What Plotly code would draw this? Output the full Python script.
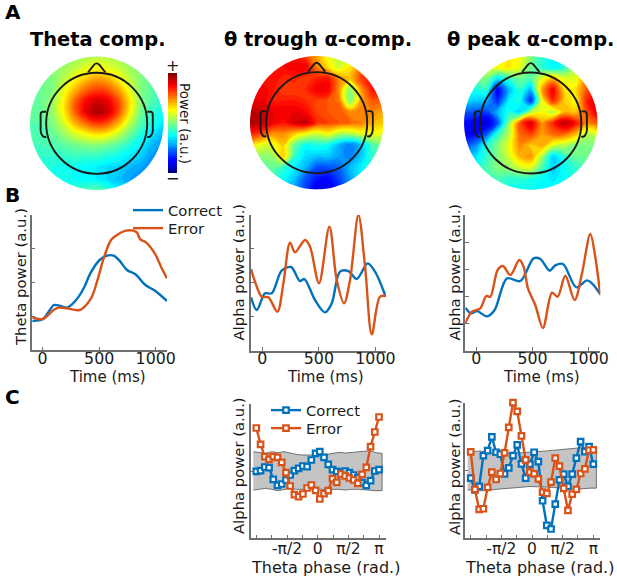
import numpy as np
import plotly.graph_objects as go

W, H = 617, 578
BLUE, ORANGE = "#0072BD", "#D95319"
AXC = "#707070"
TXT = "#1a1a1a"
FONT = "DejaVu Sans"

# ---------- topographies (rows top -> bottom, columns left -> right) ----------
topo_theta = [
 [.48,.48,.48,.50,.52,.54,.56,.55,.53,.50,.48,.47,.47],
 [.47,.47,.50,.53,.56,.60,.62,.60,.57,.53,.50,.47,.45],
 [.47,.48,.50,.55,.62,.68,.72,.70,.63,.56,.50,.47,.44],
 [.47,.48,.50,.60,.70,.78,.82,.80,.72,.60,.50,.46,.43],
 [.47,.48,.52,.63,.78,.88,.93,.90,.80,.65,.50,.45,.42],
 [.47,.47,.52,.63,.78,.90,.97,.93,.80,.63,.48,.42,.38],
 [.46,.46,.50,.58,.70,.78,.83,.80,.70,.56,.45,.40,.35],
 [.45,.45,.47,.52,.58,.62,.65,.63,.56,.48,.40,.35,.30],
 [.43,.44,.45,.46,.48,.50,.50,.48,.45,.40,.36,.30,.27],
 [.42,.42,.42,.42,.43,.42,.42,.40,.38,.35,.32,.27,.25],
 [.42,.41,.40,.39,.38,.37,.36,.34,.33,.30,.28,.25,.25],
 [.42,.41,.40,.39,.38,.37,.36,.34,.31,.28,.27,.27,.27],
 [.42,.42,.42,.42,.42,.44,.46,.42,.36,.33,.30,.30,.30],
]
topo_trough = [
 [.55,.62,.72,.80,.85,.82,.72,.62,.55,.60,.70,.70,.65],
 [.72,.78,.84,.88,.90,.90,.76,.66,.58,.65,.76,.80,.72],
 [.82,.85,.88,.85,.85,.82,.85,.87,.74,.68,.82,.87,.82],
 [.87,.90,.87,.82,.82,.84,.90,.90,.74,.50,.74,.87,.85],
 [.90,.90,.86,.86,.86,.84,.82,.80,.77,.48,.72,.80,.78],
 [.95,.93,.90,.90,.90,.88,.82,.80,.80,.74,.76,.75,.72],
 [.97,.95,.90,.87,.92,.95,.84,.82,.80,.78,.76,.70,.68],
 [.85,.82,.74,.74,.68,.62,.58,.62,.55,.55,.60,.62,.60],
 [.68,.60,.60,.68,.48,.38,.40,.38,.30,.24,.32,.45,.50],
 [.55,.52,.52,.70,.42,.34,.32,.32,.28,.24,.32,.42,.45],
 [.45,.45,.48,.42,.36,.30,.20,.20,.22,.30,.36,.42,.45],
 [.40,.40,.42,.38,.32,.20,.14,.12,.18,.28,.36,.40,.42],
 [.35,.35,.35,.32,.28,.18,.08,.08,.15,.25,.32,.35,.38],
]
topo_peak = [
 [.50,.55,.58,.62,.64,.62,.50,.42,.36,.38,.50,.60,.62],
 [.50,.52,.58,.62,.65,.60,.48,.42,.36,.42,.55,.68,.70],
 [.45,.48,.50,.36,.42,.48,.45,.60,.70,.60,.60,.74,.78],
 [.42,.40,.42,.10,.30,.42,.30,.72,.90,.66,.65,.80,.85],
 [.35,.32,.30,.15,.36,.40,.15,.62,.85,.68,.62,.85,.92],
 [.20,.20,.18,.30,.40,.32,.55,.62,.55,.70,.68,.80,.92],
 [.12,.10,.06,.20,.50,.80,.93,.72,.85,.96,.88,.75,.80],
 [.10,.12,.20,.42,.55,.78,.82,.72,.78,.78,.70,.55,.60],
 [.18,.25,.40,.50,.60,.75,.68,.72,.60,.55,.50,.50,.50],
 [.30,.34,.42,.50,.58,.70,.74,.55,.32,.42,.48,.48,.48],
 [.38,.38,.45,.50,.52,.58,.60,.45,.32,.38,.42,.45,.45],
 [.40,.42,.42,.45,.42,.42,.40,.38,.35,.38,.42,.42,.42],
 [.42,.42,.42,.42,.38,.38,.38,.38,.38,.40,.42,.42,.42],
]

# ---------- panel B ----------
b1_t_c = [-90,0,50,100,150,215,260,319,370,422,504,569,628,680,746,820,909,997,1100]
b1_v_c = [87,92,113,135,133,127,137,160,190,230,270,283,283,268,240,227,195,177,147]
b1_t_e = [-90,0,97,142,215,327,428,481,540,605,658,737,829,864,914,997,1047,1100]
b1_v_e = [98,93,120,127,125,120,155,205,275,330,345,358,354,332,323,287,250,215]

b2_t_c = [-100,-50,24,83,171,254,333,372,466,555,614,687,761,835,932,997,1086]
b2_v_c = [160,122,172,172,240,251,209,215,152,115,142,237,239,215,262,237,167]
b2_t_e = [-100,-65,-6,53,133,186,245,289,378,422,501,593,658,723,776,850,909,968,1041,1094]
b2_v_e = [245,207,162,160,117,202,324,295,332,312,202,372,212,142,212,407,252,49,162,164]

b3_t_c = [-98,-47,6,95,163,273,392,510,570,653,703,772,890,985,1030,1098]
b3_v_c = [129,112,119,103,122,217,209,277,275,240,256,260,190,211,202,172]
b3_t_e = [-98,-39,36,89,125,190,237,303,383,421,460,525,593,674,724,792,875,941,1015,1059,1104]
b3_v_e = [82,117,127,164,162,242,254,227,272,252,187,137,68,174,162,225,152,232,350,282,167]

# ---------- panel C ----------
c1_correct = [200,202,213,211,176,158,162,174,189,202,209,216,214,234,254,259,242,221,205,200,197,201,196,189,181,166,158,172,201,205]
c1_error = [330,281,244,236,244,242,227,196,156,130,124,132,150,159,143,117,133,142,178,167,192,186,180,174,164,191,212,274,318,363]
c1_upper = [259,256,254,259,256,259,254,251,249,249,248,249,251,254,257,255,256,259,260,262,256,254]
c1_lower = [144,146,149,146,142,146,149,146,144,146,146,144,146,146,146,144,146,146,144,144,142,142]

c2_correct = [180,145,155,248,263,304,258,252,193,211,248,280,223,180,222,258,230,112,38,27,102,175,192,155,192,240,290,260,275,222]
c2_error = [259,146,86,88,152,198,176,194,256,333,407,381,307,235,198,193,178,138,134,168,240,216,149,83,132,146,194,208,264,265]
c2_upper = [258,260,262,258,255,255,254,256,255,257,258,258,260,262,264,266,266,268,270,272,274,270]
c2_lower = [145,143,142,143,145,147,149,150,152,153,155,155,154,153,152,152,150,148,147,148,150,150]

phase = np.linspace(-np.pi, np.pi, 30)
band_phase = np.linspace(-1.05*np.pi, 1.05*np.pi, 22)

phase_ticks = [k*np.pi/4 for k in range(-4, 5)]
phase_labels = ["", "", "-π/2", "", "0", "", "π/2", "", "π"]

JET = [[0, "#00007f"], [.11, "#0000ff"], [.125, "#0000ff"], [.375, "#00ffff"], [.5, "#7fff7f"],
       [.625, "#ffff00"], [.875, "#ff0000"], [1, "#7f0000"]]

fig = go.Figure()
layout = dict(width=W, height=H, margin=dict(l=0, r=0, t=0, b=0, autoexpand=False), autosize=False,
              paper_bgcolor="white", plot_bgcolor="white",
              font=dict(family=FONT, size=14.5, color=TXT), showlegend=True, shapes=[], annotations=[],
              coloraxis=dict(cmin=0, cmax=1, colorscale=JET,
                             colorbar=dict(x=168/W, xanchor="left", y=1-73/H, yanchor="top", len=100, lenmode="pixels",
                                           thickness=9, thicknessmode="pixels", xpad=0, ypad=0, outlinewidth=0,
                                           showticklabels=False, ticks="")))

def dom(x0, x1, y0, y1):
    return dict(x=[x0/W, x1/W], y=[1-y1/H, 1-y0/H])

def ax_style(**kw):
    d = dict(showgrid=False, zeroline=False, showline=True, linecolor=AXC, linewidth=1.5,
             ticks="inside", ticklen=3.5, tickcolor=AXC, tickwidth=1, tickfont=dict(size=15.8, family=FONT, color=TXT))
    d.update(kw)
    return d

R_MAP = 1.32
theta = np.linspace(0, 2*np.pi, 181)
circ = "M" + " L".join(f"{R_MAP*np.cos(t):.3f} {R_MAP*np.sin(t):.3f}" for t in theta) + " Z"
mask = f"M -1.6 -1.6 L -1.6 1.6 L 1.6 1.6 L 1.6 -1.6 Z {circ}"
NOSE = "M -0.17 1.01 L -0.05 1.16 Q 0 1.21 0.05 1.16 L 0.17 1.01"
EAR_L = "M -1.0 0.23 L -1.07 0.23 Q -1.11 0.22 -1.11 0.17 L -1.11 -0.14 Q -1.11 -0.2 -1.07 -0.25 Q -1.04 -0.29 -1.0 -0.26"
EAR_R = "M 1.0 0.23 L 1.07 0.23 Q 1.11 0.22 1.11 0.17 L 1.11 -0.14 Q 1.11 -0.2 1.07 -0.25 Q 1.04 -0.29 1.0 -0.26"

grid = np.linspace(-R_MAP, R_MAP, 13)
for i, (grid_z, cx, cy) in enumerate([(topo_theta, 96.7, 123.3), (topo_trough, 316.7, 122.7), (topo_peak, 530.8, 123)], start=1):
    half = 66.7*1.42/1.32
    d = dom(cx-half, cx+half, cy-half, cy+half)
    s = "" if i == 1 else str(i)
    layout["xaxis"+s] = dict(domain=d["x"], range=[-1.42, 1.42], visible=False)
    layout["yaxis"+s] = dict(domain=d["y"], range=[-1.42, 1.42], visible=False, anchor="x"+s)
    fig.add_trace(go.Contour(x=grid, y=grid, z=np.array(grid_z)[::-1], coloraxis="coloraxis",
                             autocontour=False, contours=dict(coloring="fill", start=0, end=1, size=0.02, showlines=False),
                             line=dict(width=0, smoothing=1.3),
                             xaxis="x"+s, yaxis="y"+s, showlegend=False, hoverinfo="skip"))
    xr, yr = "x"+s, "y"+s
    layout["shapes"].append(dict(type="path", path=mask, fillcolor="white", fillrule="evenodd", line=dict(width=0), xref=xr, yref=yr, layer="above"))
    head = dict(color="#1a1a1a", width=1.9)
    layout["shapes"].append(dict(type="circle", x0=-1, x1=1, y0=-1, y1=1, xref=xr, yref=yr, line=head, layer="above"))
    for p in (NOSE, EAR_L, EAR_R):
        layout["shapes"].append(dict(type="path", path=p, xref=xr, yref=yr, line=head, layer="above"))

def add_line(t, v, name, color, ax_i, legend=None):
    fig.add_trace(go.Scatter(x=t, y=v, mode="lines", name=name, line=dict(color=color, width=2.4, shape="spline", smoothing=0.9),
                             xaxis=f"x{ax_i}", yaxis=f"y{ax_i}", showlegend=legend is not None, cliponaxis=False,
                             legend=legend or "legend"))

# panel B axes
b_panels = [
 (4, 32, 167, 215, 350, [-94, 1100], [0, 405], 5, b1_t_c, b1_v_c, b1_t_e, b1_v_e, ("legend", "legend2")),
 (5, 250.7, 386, 215, 350.7, [-103, 1094], [0, 407], 5, b2_t_c, b2_v_c, b2_t_e, b2_v_e, (None, None)),
 (6, 465.3, 600.3, 215, 350.7, [-98, 1104], [0, 407], 6, b3_t_c, b3_v_c, b3_t_e, b3_v_e, (None, None)),
]
for idx, x0, x1, y0, y1, xr, yr, n, tc, vc, te, ve, legs in b_panels:
    d = dom(x0, x1, y0, y1)
    layout[f"xaxis{idx}"] = ax_style(domain=d["x"], range=xr, anchor=f"y{idx}", tickvals=[0, 500, 1000], ticklabelstandoff=-7)
    layout[f"yaxis{idx}"] = ax_style(domain=d["y"], range=yr, anchor=f"x{idx}", tickvals=list(np.linspace(yr[0], yr[1], n)),
                                     showticklabels=False)
    add_line(tc, vc, "Correct", BLUE, idx, legs[0])
    add_line(te, ve, "Error", ORANGE, idx, legs[1])

# panel C axes
c_panels = [
 (7, 251, 385.7, 404, 538, [-1.087*np.pi, 1.109*np.pi], [0, 402], c1_correct, c1_error, c1_upper, c1_lower, ("legend3", "legend4")),
 (8, 464.7, 600.3, 402.7, 538, [-1.098*np.pi, 1.114*np.pi], [0, 407], c2_correct, c2_error, c2_upper, c2_lower, (None, None)),
]
for idx, x0, x1, y0, y1, xr, yr, corr, err, up, lo, legs in c_panels:
    d = dom(x0, x1, y0, y1)
    layout[f"xaxis{idx}"] = ax_style(domain=d["x"], range=xr, anchor=f"y{idx}", tickvals=phase_ticks, ticktext=phase_labels,
                                     ticklabelstandoff=-4, tickfont=dict(size=15.5, family=FONT, color=TXT))
    layout[f"yaxis{idx}"] = ax_style(domain=d["y"], range=yr, anchor=f"x{idx}", tickvals=[yr[0], yr[1]/2, yr[1]],
                                     showticklabels=False)
    fig.add_trace(go.Scatter(x=np.r_[band_phase, band_phase[::-1]], y=np.r_[up, lo[::-1]], mode="lines", fill="toself",
                             fillcolor="#c4c4c4", line=dict(color="#555555", width=0.8), xaxis=f"x{idx}", yaxis=f"y{idx}",
                             showlegend=False, hoverinfo="skip"))
    for vals, name, col, leg in [(corr, "Correct", BLUE, legs[0]), (err, "Error", ORANGE, legs[1])]:
        fig.add_trace(go.Scatter(x=phase, y=vals, mode="lines+markers", name=name,
                                 line=dict(color=col, width=2.4), cliponaxis=False,
                                 marker=dict(symbol="square", size=5.5, color="white", line=dict(color=col, width=2.2)),
                                 xaxis=f"x{idx}", yaxis=f"y{idx}", showlegend=leg is not None, legend=leg or "legend"))

def leg_pos(x, y):
    return dict(x=x/W, y=1-y/H, xanchor="left", yanchor="top", bgcolor="rgba(0,0,0,0)", itemwidth=30,
                font=dict(size=14.8, family=FONT, color=TXT), tracegroupgap=0)

layout["legend"] = leg_pos(128, 194)
layout["legend2"] = leg_pos(128, 212)
layout["legend3"] = leg_pos(266, 394)
layout["legend4"] = leg_pos(266, 412)

def note(text, x, y, size, bold=False, anchor="center", angle=0):
    layout["annotations"].append(dict(text=f"<b>{text}</b>" if bold else text, x=x/W, y=1-y/H, xref="paper", yref="paper",
                                      xanchor=anchor, yanchor="middle", showarrow=False, textangle=angle,
                                      font=dict(size=size, family=FONT, color="#000000" if bold else TXT)))

note("A", 3, 12, 20, True, "left")
note("B", 3, 195, 20, True, "left")
note("C", 3, 397, 20, True, "left")
note("Theta comp.", 97.5, 39, 19.4, True)
note("θ trough α-comp.", 317.7, 39, 19.4, True)
note("θ peak α-comp.", 530.7, 39, 19.4, True)
note("+", 172, 66, 16)
note("−", 172, 178, 16)
note("Power (a.u.)", 185, 123, 13.5, angle=90)

for x, y in [(107, 377), (325.7, 377), (541, 377)]:
    note("Time (ms)", x, y, 15)
for x, y in [(325, 567), (539, 567)]:
    note("Theta phase (rad.)", x, y, 16)
note("Theta power (a.u.)", 20, 277, 14.8, angle=-90)
for x, y in [(238, 272.5), (454, 272.5), (238, 466), (454, 467)]:
    note("Alpha power (a.u.)", x, y, 14.8, angle=-90)

fig.update_layout(**layout)
fig.write_html("out.html", config={"displayModeBar": False}, post_script="document.body.style.margin='0';")
